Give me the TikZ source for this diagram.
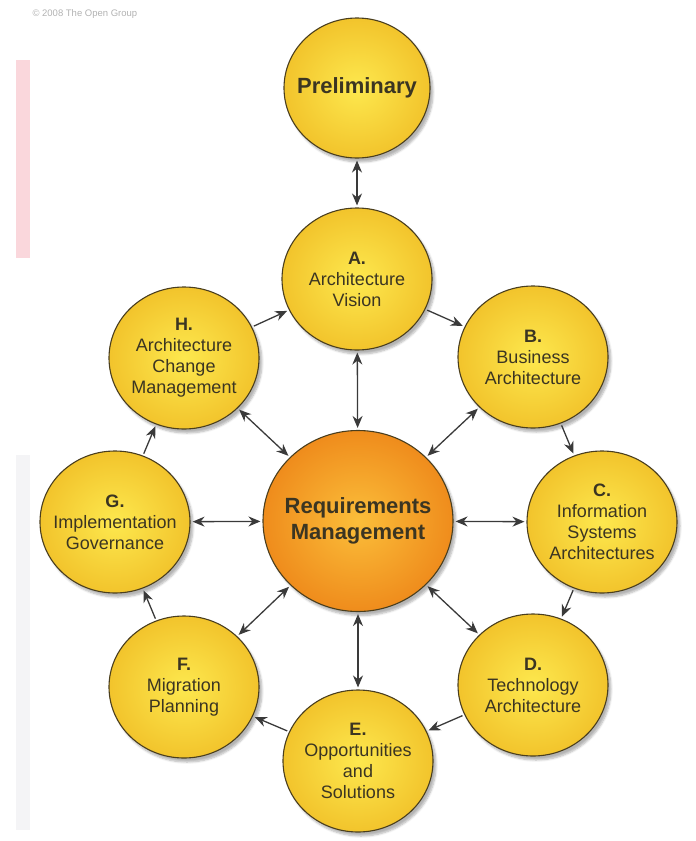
\documentclass[tikz,border=0pt]{standalone}
\usepackage{fontspec}
\setmainfont{Liberation Sans}
\usetikzlibrary{arrows.meta,shapes.geometric,shadows.blur}
\definecolor{phaseout}{HTML}{F2C42C}
\definecolor{phasein}{HTML}{FDE84E}
\definecolor{reqout}{HTML}{EF8C1C}
\definecolor{reqin}{HTML}{FBBE3A}
\definecolor{rim}{HTML}{4A3E1E}
\definecolor{ink}{HTML}{3B3522}
\definecolor{wire}{HTML}{3A3A3A}
\definecolor{pinkbar}{HTML}{FAD7DC}
\definecolor{greybar}{HTML}{F4F4F6}

\begin{document}
\begin{tikzpicture}[x=1pt,y=-1pt,
    phase/.style={ellipse,draw=rim,line width=1.1pt,inner color=phasein,outer color=phaseout,
      minimum width=150pt,minimum height=142pt,inner xsep=-14pt,inner ysep=0pt,align=center,text=ink,
      font=\fontsize{18}{21}\selectfont,
      blur shadow={shadow xshift=3pt,shadow yshift=-4pt,shadow blur steps=6,shadow opacity=30}},
    link/.style={draw=wire,line width=1.3pt,-{Stealth[length=12pt,width=10pt]},shorten >=2pt,shorten <=2pt},
    both/.style={link,{Stealth[length=12pt,width=10pt]}-{Stealth[length=12pt,width=10pt]}}]
  \useasboundingbox (0,0) rectangle (696,841);
  \fill[pinkbar] (16,60) rectangle (30,258);
  \fill[greybar] (16,455) rectangle (30,830);
  \node[anchor=west,text=black!30,font=\fontsize{9.5}{11}\selectfont] (copy) at (29,14) {© 2008 The Open Group};

  \node[phase,minimum width=146pt,minimum height=140pt,font=\bfseries\fontsize{22}{26}\selectfont] (Prelim) at (357,88) {Preliminary};
  \node[phase] (A) at (357,279) {\textbf{A.}\\Architecture\\Vision};
  \node[phase] (B) at (533,357) {\textbf{B.}\\Business\\Architecture};
  \node[phase] (C) at (602,522) {\textbf{C.}\\Information\\Systems\\Architectures};
  \node[phase] (D) at (533,685) {\textbf{D.}\\Technology\\Architecture};
  \node[phase] (E) at (358,761) {\textbf{E.}\\Opportunities\\and\\Solutions};
  \node[phase] (F) at (184,687) {\textbf{F.}\\Migration\\Planning};
  \node[phase] (G) at (115,522) {\textbf{G.}\\Implementation\\Governance};
  \node[phase] (H) at (184,358) {\textbf{H.}\\Architecture\\Change\\Management};
  \node[phase,inner color=reqin,outer color=reqout,minimum width=190pt,minimum height=181pt,
    font=\bfseries\fontsize{22}{26}\selectfont] (Req) at (358,521) {Requirements\\Management};

  \draw[both] (Prelim) to (A);
  \draw[link] (H) to (A);
  \draw[link] (A) to (B);
  \draw[link] (B) to (C);
  \draw[link] (C) to (D);
  \draw[link] (D) to (E);
  \draw[link] (E) to (F);
  \draw[link] (F) to (G);
  \draw[link] (G) to (H);
  \draw[both] (Req) to (A);
  \draw[both] (Req) to (B);
  \draw[both] (Req) to (C);
  \draw[both] (Req) to (D);
  \draw[both] (Req) to (E);
  \draw[both] (Req) to (F);
  \draw[both] (Req) to (G);
  \draw[both] (Req) to (H);
\end{tikzpicture}
\end{document}
